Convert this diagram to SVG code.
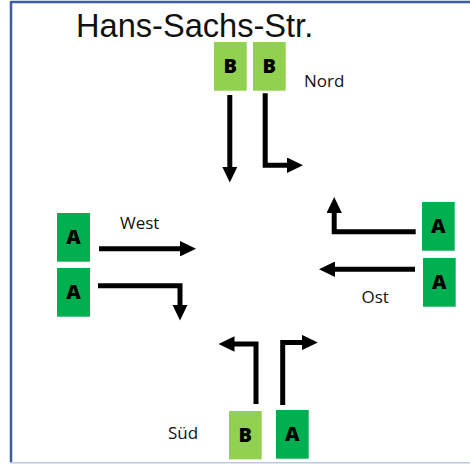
<svg xmlns="http://www.w3.org/2000/svg" width="470" height="464" viewBox="0 0 470 464">
<style>
.bg{fill:#ffffff}
.lbl{font-family:"Open Sans","Liberation Sans",sans-serif;font-size:17px;fill:#111}
.title{font-family:"Liberation Sans",Arial,sans-serif;font-size:32.6px;fill:#111}
.box-a{fill:#00B050}
.box-b{fill:#92D050}
.bt{font-family:"Open Sans","Liberation Sans",sans-serif;font-weight:800;font-size:20px;fill:#000;text-anchor:middle}
.arr{fill:none;stroke:#000;stroke-width:5;stroke-linejoin:miter;stroke-linecap:butt;marker-end:url(#head)}
</style>
<defs>
<marker id="head" markerUnits="userSpaceOnUse" markerWidth="16" markerHeight="15.4" viewBox="0 0 16 15.4" refX="0.5" refY="7.7" orient="auto">
<path d="M0,0 L16,7.7 L0,15.4 z" fill="#000"/>
</marker>
</defs>
<rect class="bg" x="0" y="0" width="470" height="464"/>
<line x1="11" y1="2" x2="470" y2="2" stroke="#3B5DA0" stroke-width="2.5"/>
<line x1="11" y1="1" x2="11" y2="463" stroke="#3B5DA0" stroke-width="2.5"/>
<line x1="10" y1="462.8" x2="470" y2="462.8" stroke="#BFC7D8" stroke-width="1.5"/>

<text class="title" x="76" y="36.7">Hans-Sachs-Str.</text>
<text class="lbl" x="304" y="87.3">Nord</text>
<text class="lbl" x="120" y="229">West</text>
<text class="lbl" x="361.5" y="303.3">Ost</text>
<text class="lbl" x="168" y="439.3">Süd</text>

<g id="nord-b1"><rect class="box-b" x="214" y="42" width="32.7" height="48.7"/><text class="bt" x="230.3" y="73.3">B</text></g>
<g id="nord-b2"><rect class="box-b" x="253" y="42" width="32.7" height="48.7"/><text class="bt" x="269.3" y="73.3">B</text></g>
<g id="west-a1"><rect class="box-a" x="57" y="213" width="33" height="48.7"/><text class="bt" x="73.5" y="244.3">A</text></g>
<g id="west-a2"><rect class="box-a" x="57" y="268" width="33" height="48.7"/><text class="bt" x="73.5" y="299.3">A</text></g>
<g id="ost-a1"><rect class="box-a" x="422" y="202" width="32.7" height="48.7"/><text class="bt" x="438.3" y="233.3">A</text></g>
<g id="ost-a2"><rect class="box-a" x="423" y="258" width="32.7" height="48.7"/><text class="bt" x="439.3" y="289.3">A</text></g>
<g id="sued-b"><rect class="box-b" x="229" y="411" width="32.7" height="48.3"/><text class="bt" x="245.3" y="442.2">B</text></g>
<g id="sued-a"><rect class="box-a" x="276" y="410" width="32.7" height="48.7"/><text class="bt" x="292.3" y="441.3">A</text></g>

<g id="connectors">
<path class="arr" d="M229.8,95 V167"/>
<path class="arr" d="M265.2,93.3 V165.2 H287.5"/>
<path class="arr" d="M99,248.7 H180.5"/>
<path class="arr" d="M98,285.8 H180 V305"/>
<path class="arr" d="M415.7,231.8 H334.2 V212.5"/>
<path class="arr" d="M415,269.2 H334.5"/>
<path class="arr" d="M256,404 V344 H234"/>
<path class="arr" d="M282.7,405 V342.5 H302.3"/>
</g>
</svg>
